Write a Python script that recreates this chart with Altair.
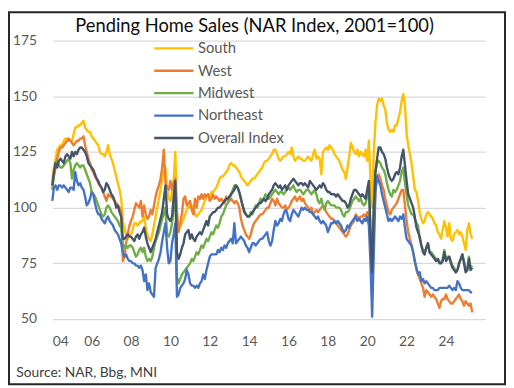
import altair as alt
import pandas as pd

# ---------------- data (monthly, Jan 2004 - May 2025) ----------------
start_year = 2004
series_names = ["South", "West", "Midwest", "Northeast", "Overall Index"]
series_colors = ["#FFC000", "#ED7D31", "#70AD47", "#4472C4", "#44546A"]

south = [
    112, 118, 122, 126, 127, 128, 128, 130, 131, 131, 130, 130,
    130, 133, 136, 136, 137, 137, 138, 139, 136, 135, 134, 134,
    132, 131, 130, 129, 128, 125, 124, 124, 123, 125, 128, 124,
    122, 120, 117, 114, 111, 108, 104, 94, 91, 88, 86, 88,
    88, 90, 93, 93, 92, 93, 94, 94, 96, 91, 88, 86,
    85, 88, 92, 96, 100, 104, 108, 113, 116, 118, 108, 104,
    103, 107, 113, 125, 97, 90, 92, 93, 95, 97, 99, 101,
    100, 101, 99, 97, 96, 97, 98, 99, 101, 103, 105, 106,
    105, 107, 107, 108, 109, 111, 113, 114, 114, 115, 116, 117,
    119, 120, 119, 119, 118, 117, 116, 114, 113, 112, 111, 110,
    111, 112, 113, 113, 114, 115, 116, 117, 118, 120, 121, 121,
    122, 123, 124, 126, 126, 124, 122, 121, 122, 123, 123, 124,
    125, 124, 127, 123, 121, 122, 123, 122, 122, 121, 121, 122,
    123, 122, 121, 124, 126, 122, 123, 122, 115, 125, 126, 127,
    126, 128, 127, 126, 124, 123, 122, 121, 119, 117, 116, 113,
    118, 123, 129, 127, 125, 124, 126, 123, 125, 124, 123, 126,
    121, 130, 112, 100, 125, 138, 146, 149, 148, 149, 146, 144,
    138, 135, 134, 135, 134, 137, 137, 140, 143, 148, 151, 146,
    133, 128, 124, 120, 114, 108, 107, 103, 98, 95, 93, 94,
    97, 98, 97, 96, 95, 93, 92, 89, 88, 86, 90, 94,
    91, 87, 93, 86, 85, 88, 89, 90, 88, 89, 87, 84,
    81, 90, 93, 88, 86,
]

west = [
    110, 114, 118, 122, 125, 127, 127, 128, 129, 130, 131, 130,
    129, 128, 129, 130, 130, 131, 131, 132, 128, 125, 122, 120,
    117, 116, 114, 113, 111, 110, 109, 107, 105, 103, 106, 105,
    105, 104, 103, 102, 101, 100, 98, 76, 78, 84, 88, 92,
    94, 96, 99, 102, 101, 100, 103, 96, 101, 97, 95, 96,
    99, 97, 101, 105, 108, 110, 113, 118, 126, 111, 109, 108,
    112, 108, 111, 113, 98, 89, 93, 97, 104, 105, 101, 102,
    103, 99, 97, 104, 100, 105, 104, 106, 104, 106, 105, 106,
    103, 104, 106, 104, 105, 104, 103, 104, 103, 102, 105, 103,
    103, 104, 103, 102, 103, 102, 100, 95, 92, 90, 88, 87,
    86, 88, 91, 93, 94, 95, 96, 97, 97, 98, 99, 100,
    100, 102, 104, 103, 101, 104, 102, 101, 100, 100, 101, 99,
    100, 101, 103, 104, 105, 103, 104, 105, 103, 104, 102, 101,
    100, 99, 100, 97, 98, 99, 98, 99, 100, 101, 100, 98,
    97, 96, 95, 95, 94, 93, 92, 91, 90, 89, 88, 87,
    88, 90, 92, 93, 94, 97, 96, 95, 96, 96, 97, 96,
    98, 97, 84, 66, 92, 108, 114, 115, 113, 110, 108, 104,
    101, 98, 97, 99, 100, 101, 102, 104, 106, 108, 108, 101,
    94, 89, 86, 83, 80, 76, 72, 70, 68, 66, 64, 60,
    63, 62, 61, 60, 61, 60, 59, 57, 55, 58, 59, 59,
    61, 59, 58, 57, 57, 58, 59, 60, 61, 59, 58, 56,
    58, 57, 56, 57, 53,
]

midwest = [
    108, 115, 120, 121, 119, 118, 118, 119, 120, 121, 122, 120,
    113, 117, 119, 120, 119, 118, 119, 119, 117, 115, 113, 111,
    107, 106, 105, 103, 101, 99, 97, 96, 97, 100, 101, 100,
    98, 97, 96, 95, 94, 92, 91, 84, 82, 83, 82, 83,
    83, 82, 80, 78, 79, 81, 82, 80, 82, 78, 76, 77,
    76, 78, 82, 85, 87, 89, 92, 95, 97, 100, 88, 87,
    89, 93, 100, 107, 69, 66, 68, 70, 71, 72, 73, 74,
    75, 77, 76, 78, 80, 79, 81, 83, 82, 84, 86, 85,
    87, 89, 88, 90, 92, 91, 93, 96, 97, 99, 101, 102,
    104, 106, 108, 110, 110, 109, 107, 104, 101, 99, 97, 96,
    96, 98, 97, 99, 101, 100, 102, 104, 103, 104, 106, 105,
    104, 105, 106, 107, 108, 107, 106, 107, 107, 106, 107, 108,
    109, 108, 109, 110, 108, 107, 108, 108, 107, 106, 107, 108,
    108, 107, 106, 107, 108, 106, 103, 102, 104, 101, 99, 102,
    103, 102, 101, 101, 101, 100, 100, 100, 99, 97, 96, 98,
    98, 99, 101, 103, 104, 105, 104, 103, 104, 102, 101, 102,
    105, 110, 90, 74, 102, 116, 120, 121, 120, 118, 117, 115,
    111, 108, 106, 105, 108, 107, 108, 110, 112, 116, 118, 111,
    106, 101, 99, 97, 97, 95, 93, 92, 86, 83, 81, 80,
    82, 84, 80, 80, 79, 78, 77, 77, 76, 75, 77, 81,
    77, 78, 78, 76, 74, 73, 71, 72, 75, 77, 79, 76,
    72, 72, 78, 73, 74,
]

northeast = [
    103, 109, 110, 108, 110, 110, 109, 110, 109, 108, 107, 109,
    109, 108, 116, 112, 110, 111, 109, 108, 105, 101, 102, 104,
    107, 106, 102, 99, 97, 97, 95, 94, 93, 95, 96, 94,
    93, 92, 90, 89, 88, 86, 84, 80, 78, 79, 77, 76,
    76, 75, 75, 74, 74, 73, 74, 72, 67, 70, 63, 66,
    62, 61, 60, 73, 75, 77, 80, 85, 89, 93, 82, 75,
    76, 84, 88, 93, 60, 61, 64, 65, 66, 68, 72, 70,
    66, 65, 65, 64, 65, 64, 66, 67, 70, 68, 72, 75,
    78, 79, 79, 79, 79, 81, 80, 82, 81, 83, 82, 84,
    85, 86, 84, 93, 84, 85, 86, 87, 86, 85, 83, 82,
    80, 82, 84, 84, 83, 84, 85, 86, 86, 87, 88, 89,
    85, 83, 85, 90, 94, 92, 93, 95, 94, 97, 99, 98,
    95, 94, 97, 99, 98, 97, 96, 98, 100, 99, 100, 99,
    99, 98, 98, 97, 96, 95, 96, 94, 93, 94, 93, 92,
    89, 91, 93, 93, 94, 93, 94, 93, 92, 90, 89, 90,
    92, 91, 93, 94, 95, 96, 94, 95, 94, 93, 95, 94,
    96, 92, 75, 51, 80, 107, 114, 112, 110, 106, 103, 100,
    97, 94, 95, 94, 95, 96, 95, 94, 96, 95, 97, 91,
    86, 85, 84, 83, 80, 76, 73, 70, 71, 67, 68, 66,
    67, 66, 65, 64, 64, 63, 63, 63, 64, 64, 64, 64,
    64, 64, 65, 64, 63, 64, 63, 67, 66, 64, 63, 63,
    63, 63, 63, 62, 62,
]

overall = [
    110, 116, 120, 118, 121, 122, 121, 120, 123, 124, 123, 122,
    125, 123, 125, 124, 126, 127, 127, 126, 125, 123, 120, 119,
    118, 117, 115, 113, 112, 110, 109, 107, 108, 111, 110, 108,
    106, 105, 103, 100, 101, 98, 96, 86, 86, 87, 88, 87,
    87, 86, 85, 87, 88, 86, 88, 89, 91, 87, 84, 82,
    80, 82, 84, 86, 89, 92, 95, 98, 104, 110, 97, 95,
    94, 96, 105, 112, 80, 77, 79, 82, 84, 88, 89, 90,
    86, 88, 86, 85, 87, 88, 89, 88, 90, 92, 94, 92,
    96, 97, 98, 98, 99, 100, 100, 101, 102, 103, 104, 104,
    105, 106, 107, 108, 110, 109, 107, 104, 101, 98, 97, 96,
    96, 97, 98, 99, 100, 101, 102, 102, 103, 104, 103, 104,
    106, 107, 108, 110, 111, 110, 109, 110, 108, 109, 110, 108,
    110, 111, 112, 113, 112, 111, 110, 111, 111, 110, 111, 110,
    109, 112, 111, 110, 109, 108, 109, 110, 109, 111, 110, 108,
    107, 107, 106, 106, 106, 105, 106, 105, 104, 103, 103, 102,
    100, 101, 104, 106, 108, 108, 107, 106, 105, 106, 105, 104,
    108, 112, 88, 71, 99, 116, 122, 127, 127, 125, 124, 122,
    118, 115, 113, 112, 113, 115, 116, 115, 118, 123, 126, 119,
    112, 106, 104, 102, 100, 96, 91, 89, 87, 83, 80, 79,
    82, 84, 80, 79, 78, 77, 76, 77, 75, 75, 76, 80,
    76, 77, 78, 75, 73, 72, 71, 72, 75, 77, 79, 75,
    71, 72, 77, 72, 73,
]

chart_title = "Pending Home Sales (NAR Index, 2001=100)"
source_note = "Source: NAR, Bbg, MNI"
x_tick_years = [2004, 2006, 2008, 2010, 2012, 2014, 2016, 2018, 2020, 2022, 2024]
y_ticks = [50, 75, 100, 125, 150, 175]
line_widths = [2.4, 2.4, 2.4, 2.4, 4.0]

rows = []
for name, vals in zip(series_names, [south, west, midwest, northeast, overall]):
    for i, v in enumerate(vals):
        rows.append({"series": name, "t": start_year + i / 12.0, "value": v})
df = pd.DataFrame(rows)

FONT = "Lato"
W, H = 440, 283

lines = alt.Chart(df).mark_line(strokeJoin="round").encode(
    x=alt.X(
        "t:Q",
        scale=alt.Scale(domain=[2004, 2026], nice=False, zero=False),
        axis=alt.Axis(
            values=x_tick_years,
            labelExpr="slice(toString(datum.value), 2)",
            grid=False, domain=False, ticks=False, tickSize=0,
            labelPadding=16, labelFontSize=14, labelColor="#595959", labelFont=FONT,
            title=source_note, titleAnchor="start", titleAlign="left",
            titleX=-37, titleY=58, titleBaseline="alphabetic",
            titleFontSize=14, titleFontWeight="normal", titleColor="#404040", titleFont=FONT,
        ),
    ),
    y=alt.Y(
        "value:Q",
        scale=alt.Scale(domain=[50, 175], nice=False, zero=False),
        axis=alt.Axis(
            values=y_ticks, grid=True, gridColor="#D9D9D9", gridWidth=1.3,
            domain=False, ticks=False, tickSize=0, labelPadding=16,
            labelFontSize=14, labelColor="#595959", labelFont=FONT,
            title=chart_title, titleAngle=0, titleAnchor="start", titleAlign="center",
            titleX=205, titleY=-9, titleBaseline="alphabetic",
            titleFontSize=18.6, titleFontWeight="normal", titleColor="#0d0d0d", titleFont=FONT,
        ),
    ),
    color=alt.Color(
        "series:N",
        scale=alt.Scale(domain=series_names, range=series_colors),
        legend=alt.Legend(
            title=None, orient="none", legendX=102, legendY=0, direction="vertical",
            symbolType="stroke", symbolSize=1600, symbolStrokeWidth=3,
            labelFontSize=15, labelColor="#595959", labelFont=FONT,
            labelOffset=3, padding=0, rowPadding=6.75, clipHeight=16,
        ),
    ),
    strokeWidth=alt.StrokeWidth(
        "series:N", scale=alt.Scale(domain=series_names, range=line_widths), legend=None
    ),
)

frame = alt.Chart(pd.DataFrame({"k": [0]})).mark_rect(
    filled=False, stroke="#262626", strokeWidth=2
).encode(
    x=alt.value(-44), x2=alt.value(460), y=alt.value(-28.7), y2=alt.value(349.3)
)

chart = alt.layer(lines, frame).properties(
    width=W, height=H,
    autosize=alt.AutoSizeParams(type="none"),
    padding={"left": 45, "top": 30, "right": 21, "bottom": 67},
    background="white",
).configure_view(stroke=None)

chart.save("out.html", embed_options={"renderer": "svg", "actions": False})
